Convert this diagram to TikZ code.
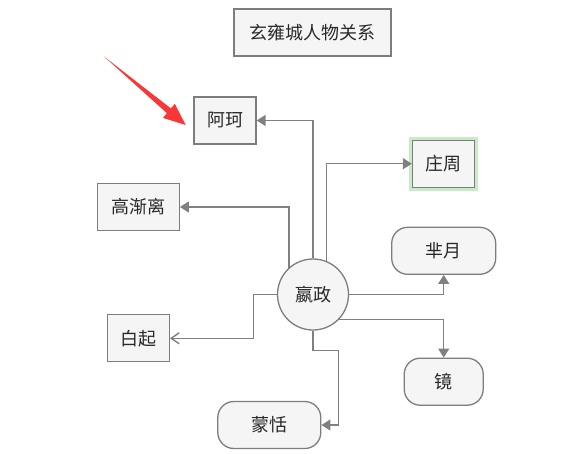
\documentclass[tikz,border=0pt]{standalone}
\usepackage{fontspec}
\setmainfont{Noto Sans CJK SC}
\usetikzlibrary{arrows.meta,calc}
\definecolor{boxfill}{RGB}{245,245,245}
\definecolor{boxline}{RGB}{125,125,125}
\definecolor{conn}{RGB}{128,128,128}
\definecolor{txt}{RGB}{40,40,40}
\definecolor{glow}{RGB}{200,236,200}
\definecolor{redarrow}{RGB}{250,55,55}
\tikzset{
  base/.style={draw=boxline, fill=boxfill, line width=1.3pt, text=txt, inner sep=0pt,
    font=\fontsize{18}{20}\selectfont},
  sqbox/.style={base, rectangle, minimum height=47pt},
  rbox/.style={base, rectangle, rounded corners=16pt, minimum height=47pt},
  circbox/.style={base, circle, minimum size=71pt},
  link/.style={draw=conn, line width=1.4pt, -{Triangle[length=9pt,width=11pt]}},
  openlink/.style={draw=conn, line width=1.4pt, -{Straight Barb[length=8pt,width=11pt]}},
}
\begin{document}
\begin{tikzpicture}[x=1pt,y=-1pt]
\useasboundingbox (0,0) rectangle (585,454);
% nodes
\node[sqbox, minimum width=157pt] (title) at (312.5,32.5) {玄雍城人物关系};
\node[sqbox, minimum width=62pt] (ak) at (225,120.5) {阿珂};
\node[sqbox, minimum width=62pt, preaction={draw=glow, line width=7pt, rounded corners=5pt}] (zz) at (443.5,163.7) {庄周};
\node[sqbox, minimum width=82pt] (gjl) at (138.2,207) {高渐离};
\node[rbox, minimum width=104pt] (my) at (443.7,250.8) {芈月};
\node[circbox] (zy) at (313,294.5) {嬴政};
\node[sqbox, minimum width=62pt] (bq) at (138.3,338.3) {白起};
\node[rbox, minimum width=79pt] (jing) at (443.7,381.7) {镜};
\node[rbox, minimum width=103pt] (mt) at (269.3,425) {蒙恬};
% bend points
\coordinate (k1) at (253.3,294.5);
\coordinate (k2) at (338.3,350.7);
% connectors
\draw[link] (zy.north) |- (ak.east);
\draw[link] (zy.68) |- (zz.west);
\draw[link] (zy.132) |- (gjl.east);
\draw[link] (zy.east) -| (my.south);
\draw[openlink] (zy.west) -- (k1) |- (bq.east);
\draw[link] (zy.-44) -| (jing.north);
\draw[link] (zy.south) |- (k2) |- (mt.east);
% red pointer arrow
\fill[redarrow] (104,56.5) -- (170.9,108.4) -- (174.8,103.8) -- (185.7,125)
  -- (163,117.9) -- (166.9,113.2) -- cycle;
\end{tikzpicture}
\end{document}
